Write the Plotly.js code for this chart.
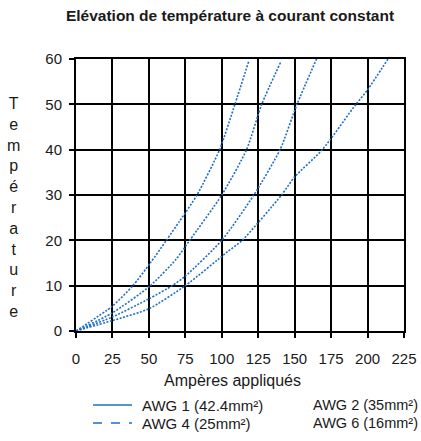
<!DOCTYPE html>
<html>
<head>
<meta charset="utf-8">
<script src="https://cdn.plot.ly/plotly-3.0.1.min.js"></script>
<style>html,body{margin:0;padding:0;background:#fff;}#chart{width:421px;height:441px;}</style>
</head>
<body>
<div id="chart"></div>
<script>
// Series names
const seriesNames = ["AWG 1 (42.4mm²)", "AWG 2 (35mm²)", "AWG 4 (25mm²)", "AWG 6 (16mm²)"];
// Applied current (A) and temperature rise for each series
const awg1Amps = [0, 25, 50, 75, 104, 114, 141, 150, 169, 192, 200, 214];
const awg1Temp = [0, 2.3, 4.9, 10, 17.5, 20, 30, 34, 40, 50, 53.2, 60];
const awg2Amps = [0, 25, 50, 66, 75, 100, 122, 140, 151.6, 165];
const awg2Temp = [0, 3.1, 7.1, 10, 12.1, 20, 30, 40, 50, 60];
const awg4Amps = [0, 25, 51, 68.6, 78, 100, 117, 127.4, 140.4];
const awg4Temp = [0, 4, 10, 15.8, 20, 30, 40, 50, 59.3];
const awg6Amps = [0, 25, 39, 51, 62, 71, 83, 98.5, 109, 118.5];
const awg6Temp = [0, 5.5, 10, 15, 20, 24.2, 30, 40, 50, 59.5];
// Axis ticks
const xTicks = [0, 25, 50, 75, 100, 125, 150, 175, 200, 225];
const yTicks = [0, 10, 20, 30, 40, 50, 60];

const titleText = "Elévation de température à courant constant";
const xTitle = "Ampères appliqués";
const yTitleLetters = "Température".split("");

const blue = "#1f6fc5";
const font = "Liberation Sans, Arial, sans-serif";
const textColor = "#1a1a1a";
const curveLine = {color: blue, width: 1.6, dash: "2px,1.5px", shape: "spline", smoothing: 0.6};

const traces = [
  {x: awg1Amps, y: awg1Temp, name: seriesNames[0], mode: "lines", line: curveLine},
  {x: awg2Amps, y: awg2Temp, name: seriesNames[1], mode: "lines", line: curveLine},
  {x: awg4Amps, y: awg4Temp, name: seriesNames[2], mode: "lines", line: curveLine},
  {x: awg6Amps, y: awg6Temp, name: seriesNames[3], mode: "lines", line: curveLine}
];

const L = 76, R = 17, T = 59, B = 110;
const W = 421, H = 441;
const pw = W - L - R, ph = H - T - B;
function px2x(p) { return (p - L) / pw; }
function py2y(p) { return (H - B - p) / ph; }

function legendText(txt, xp, yp, size) {
  return {text: txt, xref: "paper", yref: "paper", x: px2x(xp), y: py2y(yp),
          xanchor: "left", yanchor: "middle", showarrow: false,
          font: {size: size, family: font, color: textColor}};
}

const layout = {
  width: W, height: H,
  margin: {l: L, r: R, t: T, b: B},
  paper_bgcolor: "#fff", plot_bgcolor: "#fff",
  font: {family: font, color: textColor, size: 15},
  showlegend: false,
  title: {text: "<b>" + titleText + "</b>", font: {size: 15.5, family: font, color: textColor},
          x: 230 / W, xanchor: "center", xref: "container", y: 1 - 16 / H, yanchor: "middle", yref: "container"},
  xaxis: {range: [0, 225], tickvals: xTicks, ticktext: xTicks.map(String), showgrid: true,
          gridcolor: "#000", gridwidth: 2, showline: true, linecolor: "#000", linewidth: 2, mirror: true,
          ticks: "outside", ticklen: 5, tickwidth: 2, tickcolor: "#000", zeroline: false,
          tickfont: {size: 15, family: font}, ticklabelstandoff: 8, fixedrange: true},
  yaxis: {range: [0, 60], tickvals: yTicks, ticktext: yTicks.map(String), showgrid: true,
          gridcolor: "#000", gridwidth: 2, showline: true, linecolor: "#000", linewidth: 2, mirror: true,
          ticks: "outside", ticklen: 5, tickwidth: 2, tickcolor: "#000", zeroline: false,
          tickfont: {size: 15, family: font}, ticklabelstandoff: 4, fixedrange: true},
  shapes: [
    {type: "line", xref: "paper", yref: "paper", x0: px2x(93), x1: px2x(132), y0: py2y(405), y1: py2y(405),
     line: {color: blue, width: 1.5}},
    {type: "line", xref: "paper", yref: "paper", x0: px2x(93), x1: px2x(132), y0: py2y(423), y1: py2y(423),
     line: {color: blue, width: 1.5, dash: "dash"}}
  ],
  annotations: [
    {text: yTitleLetters.join("<br>"), xref: "paper", yref: "paper", x: px2x(13), y: py2y(207),
     xanchor: "center", yanchor: "middle", showarrow: false, align: "center",
     font: {size: 16, family: font, color: textColor}},
    {text: xTitle, xref: "paper", yref: "paper", x: px2x(232), y: py2y(380),
     xanchor: "center", yanchor: "middle", showarrow: false, font: {size: 16, family: font, color: textColor}},
    legendText(seriesNames[0], 140, 405, 15),
    legendText(seriesNames[2], 140, 423, 15),
    legendText(seriesNames[1], 311, 405, 14.5),
    legendText(seriesNames[3], 311, 423, 14.5)
  ]
};

Plotly.newPlot("chart", traces, layout, {staticPlot: true, displayModeBar: false});
</script>
</body>
</html>
